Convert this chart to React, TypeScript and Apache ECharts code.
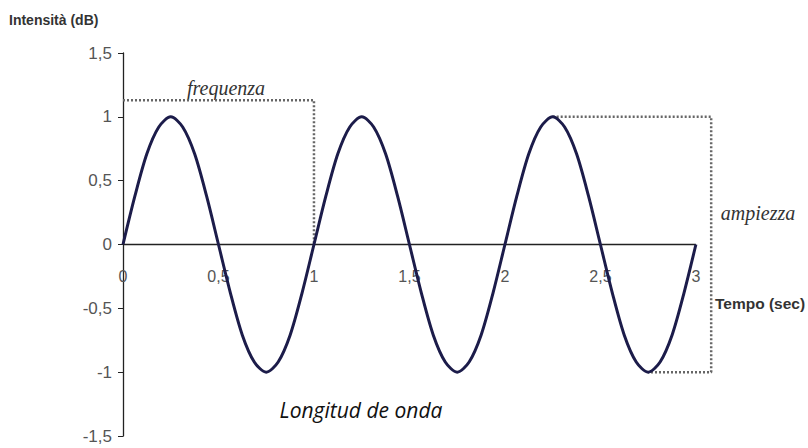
import React, { useEffect, useRef } from "react";
import * as echarts from "echarts";

const timeValues = [
  0, 0.0625, 0.125, 0.1875, 0.25, 0.3125, 0.375, 0.4375,
  0.5, 0.5625, 0.625, 0.6875, 0.75, 0.8125, 0.875, 0.9375,
  1, 1.0625, 1.125, 1.1875, 1.25, 1.3125, 1.375, 1.4375,
  1.5, 1.5625, 1.625, 1.6875, 1.75, 1.8125, 1.875, 1.9375,
  2, 2.0625, 2.125, 2.1875, 2.25, 2.3125, 2.375, 2.4375,
  2.5, 2.5625, 2.625, 2.6875, 2.75, 2.8125, 2.875, 2.9375, 3,
];
const intensityValues = [
  0, 0.38, 0.71, 0.92, 1, 0.92, 0.71, 0.38,
  0, -0.38, -0.71, -0.92, -1, -0.92, -0.71, -0.38,
  0, 0.38, 0.71, 0.92, 1, 0.92, 0.71, 0.38,
  0, -0.38, -0.71, -0.92, -1, -0.92, -0.71, -0.38,
  0, 0.38, 0.71, 0.92, 1, 0.92, 0.71, 0.38,
  0, -0.38, -0.71, -0.92, -1, -0.92, -0.71, -0.38, 0,
];
const frequencyBracket = [
  [0, 1.13],
  [1, 1.13],
  [1, 0],
];
const amplitudeBracket = [
  [2.25, 1],
  [3.08, 1],
  [3.08, -1],
  [2.75, -1],
];
const timeAxisLine = [
  [0, 0],
  [3, 0],
];
const yTicks = { min: -1.5, max: 1.5, interval: 0.5 };
const xTicks = { min: 0, max: 3.1, interval: 0.5, lastLabel: 3 };

const comma = (v: number) => String(v).replace(".", ",");

export default function App() {
  const ref = useRef<HTMLDivElement>(null);
  useEffect(() => {
    if (!ref.current) return;
    const chart = echarts.init(ref.current, undefined, { renderer: "svg" });
    const labelFont = "'Liberation Sans', Arial, sans-serif";
    const serifFont = "'Liberation Serif', 'DejaVu Serif', serif";
    const gridTop = 53;
    const gridBottom = 12;
    const plotHeight = 448 - gridTop - gridBottom;
    const zeroFromBottom = plotHeight * ((0 - yTicks.min) / (yTicks.max - yTicks.min));
    chart.setOption({
      animation: false,
      backgroundColor: "#ffffff",
      grid: {
        left: 123,
        right: 93,
        top: gridTop,
        bottom: gridBottom,
        containLabel: false,
        outerBoundsMode: "none",
      },
      xAxis: {
        type: "value",
        min: xTicks.min,
        max: xTicks.max,
        interval: xTicks.interval,
        offset: -zeroFromBottom,
        axisLine: { show: false },
        axisTick: { show: false },
        splitLine: { show: false },
        axisLabel: {
          formatter: (v: number) => (v > xTicks.lastLabel ? "" : comma(v)),
          showMaxLabel: false,
          color: "#555",
          fontSize: 16,
          fontFamily: labelFont,
          margin: 24,
        },
      },
      yAxis: {
        type: "value",
        min: yTicks.min,
        max: yTicks.max,
        interval: yTicks.interval,
        axisLine: { show: true, onZero: false, lineStyle: { color: "#222", width: 1.3 } },
        axisTick: { show: true, length: 5, lineStyle: { color: "#222" } },
        splitLine: { show: false },
        axisLabel: {
          formatter: comma,
          color: "#555",
          fontSize: 17,
          fontFamily: labelFont,
          margin: 11,
        },
      },
      series: [
        {
          type: "line",
          data: timeAxisLine,
          showSymbol: false,
          lineStyle: { color: "#222", width: 1.3 },
          z: 1,
        },
        {
          type: "line",
          data: timeValues.map((t, i) => [t, intensityValues[i]]),
          smooth: 0.3,
          showSymbol: false,
          lineStyle: { color: "#1c1c4a", width: 3 },
          z: 3,
        },
        {
          type: "line",
          data: frequencyBracket,
          showSymbol: false,
          lineStyle: { color: "#666", width: 2.5, type: [2, 2] },
          z: 2,
        },
        {
          type: "line",
          data: amplitudeBracket,
          showSymbol: false,
          lineStyle: { color: "#666", width: 2.5, type: [2, 2] },
          z: 2,
        },
      ],
      graphic: [
        {
          type: "text",
          left: 9,
          top: 13,
          style: {
            text: "Intensità (dB)",
            font: `bold 14px ${labelFont}`,
            fill: "#333",
          },
        },
        {
          type: "text",
          x: 226,
          y: 88,
          style: {
            text: "frequenza",
            font: `italic 20px ${serifFont}`,
            fill: "#333",
            align: "center",
            verticalAlign: "middle",
          },
        },
        {
          type: "text",
          x: 758,
          y: 213,
          style: {
            text: "ampiezza",
            font: `italic 20px ${serifFont}`,
            fill: "#333",
            align: "center",
            verticalAlign: "middle",
          },
        },
        {
          type: "text",
          x: 715,
          y: 303,
          style: {
            text: "Tempo (sec)",
            font: `bold 15.5px ${labelFont}`,
            fill: "#333",
            align: "left",
            verticalAlign: "middle",
          },
        },
        {
          type: "text",
          x: 361,
          y: 410,
          style: {
            text: "Longitud de onda",
            font: "italic 21px 'Open Sans', sans-serif",
            fill: "#111",
            align: "center",
            verticalAlign: "middle",
          },
        },
      ],
    });
    return () => chart.dispose();
  }, []);
  return (
    <div
      ref={ref}
      style={{ position: "fixed", left: 0, top: 0, width: 808, height: 448 }}
    />
  );
}
